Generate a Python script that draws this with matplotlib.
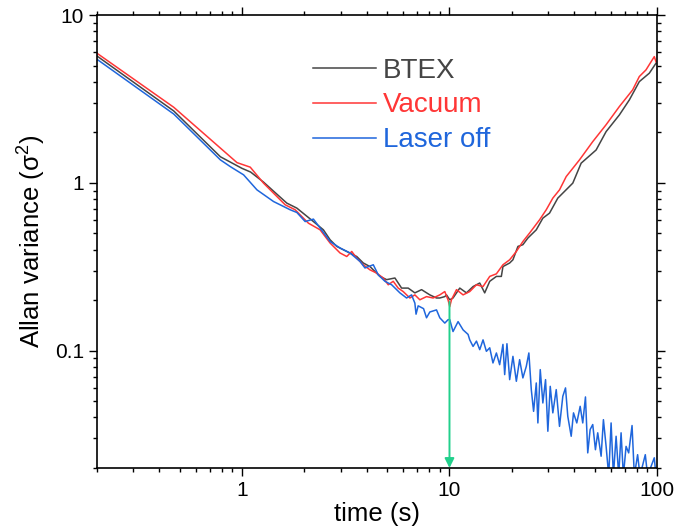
import numpy as np
import matplotlib
matplotlib.use("Agg")
import matplotlib.pyplot as plt
from matplotlib.ticker import LogLocator, FuncFormatter, NullFormatter

plt.rcParams['font.family'] = ['Liberation Sans', 'DejaVu Sans']

# values (time in s, Allan variance in sigma^2)
t_vac = [0.2, 0.469, 0.946, 1.096, 1.27, 1.615, 1.804, 2.09, 2.379, 2.658, 2.969, 3.198,
         3.38, 3.572, 3.842, 4.139, 4.457, 4.795, 5.068, 5.356, 5.661, 5.982, 6.443, 6.81,
         7.198, 7.751, 8.339, 8.981, 9.493, 9.85, 10.03, 10.22, 10.81, 11.63, 12.52, 13.49,
         14.51, 15.63, 16.83, 18.10, 19.50, 21.00, 22.58, 24.32, 27.17, 29.26, 31.48, 33.90,
         36.52, 42.31, 49.02, 56.86, 65.89, 76.33, 82.2, 88.52, 97.05, 98.9]
v_vac = [5.92, 2.82, 1.32, 1.24, 0.996, 0.740, 0.691, 0.575, 0.525, 0.438, 0.382, 0.364,
         0.390, 0.356, 0.325, 0.303, 0.290, 0.271, 0.247, 0.259, 0.236, 0.225, 0.206, 0.215,
         0.201, 0.210, 0.206, 0.215, 0.225, 0.200, 0.183, 0.201, 0.231, 0.215, 0.225, 0.247,
         0.241, 0.277, 0.287, 0.325, 0.348, 0.390, 0.447, 0.502, 0.602, 0.691, 0.811, 0.908,
         1.09, 1.37, 1.76, 2.22, 2.85, 3.58, 4.3, 4.71, 5.65, 5.27]

t_btex = [0.2, 0.469, 0.787, 1.0, 1.1, 1.27, 1.645, 1.838, 2.209, 2.468, 2.658, 2.862,
          3.198, 3.572, 3.842, 4.139, 4.623, 4.979, 5.458, 5.877, 6.324, 6.81, 7.335, 8.04,
          8.658, 8.981, 9.493, 9.674, 10.03, 10.40, 11.21, 12.07, 12.99, 13.99, 14.78, 15.63,
          16.83, 17.78, 18.10, 19.50, 20.22, 21.37, 22.58, 23.87, 26.20, 28.18, 30.35, 33.27,
          39.29, 43.11, 50.90, 56.86, 65.89, 73.59, 82.2, 91.83, 98.9]
v_btex = [5.70, 2.68, 1.43, 1.22, 1.16, 1.01, 0.757, 0.707, 0.588, 0.525, 0.458, 0.418,
          0.390, 0.364, 0.333, 0.317, 0.277, 0.265, 0.271, 0.236, 0.236, 0.221, 0.231, 0.215,
          0.206, 0.206, 0.210, 0.215, 0.201, 0.206, 0.236, 0.221, 0.241, 0.253, 0.221, 0.259,
          0.277, 0.277, 0.317, 0.333, 0.348, 0.418, 0.428, 0.469, 0.525, 0.616, 0.660, 0.811,
          0.996, 1.31, 1.57, 2.02, 2.54, 3.12, 4.01, 4.50, 5.16]

t_off = [0.2, 0.469, 0.787, 0.878, 1.018, 1.181, 1.419, 1.707, 1.838, 2.016, 2.209, 2.379,
         2.658, 2.969, 3.317, 3.706, 3.915, 4.293, 4.537, 4.886, 5.263, 5.768, 6.212, 6.565,
         6.81, 6.9, 7.064, 7.5, 7.75, 8.04, 8.658, 8.981, 9.493, 9.85, 10.03, 10.40, 11.00,
         11.63, 12.29, 12.52, 12.99, 13.49, 13.99, 14.51, 15.06, 15.63, 16.20, 16.83, 17.45,
         18.10, 18.45, 18.92, 19.50, 20.22, 21.00, 21.78, 22.58, 23.45, 24.13, 24.79, 25.43,
         26.20, 26.67, 27.38, 28.18, 29.04, 29.79, 30.59, 31.48, 32.69, 33.90, 35.17, 36.24,
         37.17, 38.60, 39.60, 41.07, 42.64, 43.88, 45.22, 46.38, 47.63, 49.02, 50.51, 51.81,
         53.80, 55.19, 56.86, 58.53, 60.10, 61.65, 63.53, 65.39, 67.14, 68.87, 70.96, 73.04,
         75.83, 77.78, 80.66, 82.83, 87.84, 90.11, 97.05, 98.9]
v_off = [5.45, 2.57, 1.37, 1.25, 1.116, 0.908, 0.774, 0.691, 0.666, 0.588, 0.608, 0.538,
         0.447, 0.409, 0.382, 0.340, 0.311, 0.325, 0.283, 0.259, 0.247, 0.221, 0.206, 0.215,
         0.192, 0.165, 0.185, 0.178, 0.157, 0.170, 0.175, 0.157, 0.146, 0.153, 0.153, 0.130,
         0.149, 0.133, 0.125, 0.116, 0.106, 0.114, 0.1014, 0.116, 0.0991, 0.104, 0.0845,
         0.0969, 0.0825, 0.109, 0.0720, 0.110, 0.0672, 0.0925, 0.0657, 0.0884, 0.0688,
         0.0806, 0.0969, 0.0586, 0.0435, 0.0642, 0.0371, 0.0771, 0.0488, 0.0672, 0.0331,
         0.0613, 0.0426, 0.0586, 0.0354, 0.0535, 0.0600, 0.0406, 0.0309, 0.0426, 0.0371,
         0.0466, 0.0371, 0.0530, 0.0246, 0.0339, 0.0363, 0.0257, 0.0324, 0.0235, 0.0388,
         0.0269, 0.018, 0.0371, 0.018, 0.0309, 0.018, 0.0324, 0.018, 0.0269, 0.0246, 0.0358,
         0.018, 0.0240, 0.018, 0.0240, 0.018, 0.0230, 0.018]

series = [("BTEX", t_btex, v_btex, "#454545"),
          ("Vacuum", t_vac, v_vac, "#ff3636"),
          ("Laser off", t_off, v_off, "#1f66dc")]

arrow_t = 10
arrow_top = 0.195
arrow_bottom = 0.02

fig = plt.figure(figsize=(6.78, 5.27), dpi=100)
ax = fig.add_axes([0.143, 0.112, 0.826, 0.8595])

for name, t, v, c in series:
    ax.plot(t, v, color=c, lw=1.1, label=name)

ax.annotate("", xy=(arrow_t, arrow_bottom), xytext=(arrow_t, arrow_top),
            arrowprops=dict(arrowstyle="-|>", color="#22d08c", lw=1.4,
                            mutation_scale=14, shrinkA=0, shrinkB=0))

ax.set_xscale("log")
ax.set_yscale("log")
ax.set_xlim(0.2, 100)
ax.set_ylim(0.02, 10)

plain = FuncFormatter(lambda v, p: "%g" % v)
ax.xaxis.set_major_formatter(plain)
ax.yaxis.set_major_formatter(plain)
ax.xaxis.set_minor_locator(LogLocator(base=10, subs=np.arange(2, 10)))
ax.yaxis.set_minor_locator(LogLocator(base=10, subs=np.arange(2, 10)))
ax.xaxis.set_minor_formatter(NullFormatter())
ax.yaxis.set_minor_formatter(NullFormatter())

ax.tick_params(which="both", direction="out", top=True, right=True, width=1.0,
               labelsize=15, colors="black")
ax.tick_params(which="major", length=6)
ax.tick_params(which="minor", length=3)
for s in ax.spines.values():
    s.set_linewidth(1.2)

ax.set_xlabel("time (s)", fontsize=18.5, labelpad=1)
ax.set_ylabel(r"Allan variance ($\mathregular{\sigma^2}$)", fontsize=18.5, labelpad=5)

leg = ax.legend(loc="upper left", bbox_to_anchor=(0.386, 0.906), frameon=False,
                fontsize=20, handlelength=2.27, handletextpad=0.25, labelspacing=0.32,
                borderpad=0, borderaxespad=0, labelcolor="linecolor")

fig.savefig("out.png", dpi=100)
